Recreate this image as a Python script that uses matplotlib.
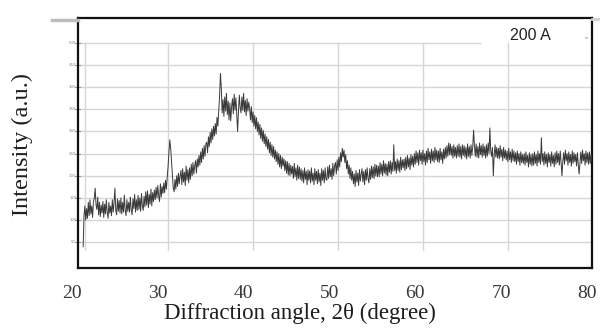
import numpy as np
import matplotlib.pyplot as plt
from matplotlib.lines import Line2D

# scan: 2theta grid (0.1 deg step) and intensity
two_theta = np.round(np.arange(213, 807) / 10, 1)
intensity = [
    40, 110, 132, 100,                                      # 21.3-21.6
    126, 104, 140, 110, 146, 114, 132, 106, 142, 150,
    172, 134, 124, 152, 112, 140, 108, 134, 116, 142,
    106, 136, 114, 146, 118, 104, 140, 116, 132, 110,
    146, 118, 140, 172, 122, 112, 148, 120, 144, 116,
    150, 114, 140, 118, 156, 122, 110, 146, 120, 140,
    118, 152, 124, 112, 148, 126, 158, 118, 146, 122,
    156, 124, 150, 120, 160, 132, 122, 154, 130, 164,
    134, 166, 128, 158, 136, 170, 132, 162, 142, 168,
    146, 174, 150, 178, 154, 142, 182, 152, 176, 160,
    184, 162, 190, 170, 198, 222, 255, 281, 262, 232,       # peak ~31.4
    205, 172, 164, 192, 170, 200, 176, 206, 182, 200,
    212, 180, 216, 186, 208, 178, 222, 190, 214, 184,
    218, 192, 226, 200, 230, 204, 222, 234, 206, 238,
    220, 246, 224, 254, 230, 262, 238, 268, 244, 272,
    276, 252, 288, 266, 298, 274, 306, 282, 312, 290,
    318, 294, 332, 312, 348, 380, 431, 398, 342, 372,       # main peak ~37.3
    334, 378, 346, 386, 338, 368, 326, 364, 324, 356,
    374, 340, 384, 348, 376, 336, 300, 346, 382, 354,
    342, 378, 348, 386, 344, 370, 336, 374, 346, 366,
    352, 326, 356, 320, 344, 312, 336, 306, 331, 300,
    321, 292, 316, 284, 308, 278, 302, 272, 294, 266,
    288, 260, 282, 252, 276, 246, 270, 242, 266, 238,
    258, 232, 254, 226, 250, 220, 246, 216, 242, 222,
    238, 212, 234, 206, 232, 202, 228, 200, 224, 204,
    221, 194, 228, 198, 218, 190, 224, 194, 220, 192,
    216, 188, 212, 184, 218, 192, 210, 180, 214, 190,
    211, 184, 218, 188, 206, 180, 216, 190, 210, 182,
    214, 186, 206, 178, 216, 190, 212, 184, 218, 192,
    190, 220, 194, 224, 198, 216, 192, 228, 200, 222,
    230, 204, 236, 212, 242, 220, 252, 232, 262, 242,       # small peak ~51.5
    258, 230, 248, 216, 234, 204, 224, 194, 218, 190,
    210, 182, 204, 176, 212, 186, 206, 178, 214, 188,
    204, 216, 186, 210, 180, 214, 190, 218, 194, 184,
    216, 192, 222, 196, 220, 194, 226, 200, 224, 198,
    222, 198, 230, 204, 226, 200, 234, 206, 228, 202,
    226, 200, 232, 208, 234, 204, 230, 210, 270, 212,
    232, 206, 238, 212, 234, 208, 242, 214, 236, 218,
    238, 212, 242, 216, 246, 220, 240, 214, 248, 224,
    244, 220, 250, 226, 256, 230, 252, 224, 258, 234,
    252, 226, 258, 232, 250, 224, 256, 230, 262, 236,
    254, 228, 260, 234, 256, 230, 264, 236, 258, 232,
    256, 230, 262, 236, 254, 228, 260, 238, 264, 240,
    268, 244, 274, 248, 272, 246, 266, 240, 270, 244,
    264, 240, 268, 244, 272, 242, 266, 238, 270, 246,
    268, 242, 264, 238, 272, 244, 266, 240, 270, 246,
    264, 303, 268, 244, 272, 242, 266, 240, 274, 248,
    268, 242, 272, 246, 266, 240, 270, 244, 274, 250,
    308, 256, 244, 264, 200, 246, 270, 242, 264, 240,
    262, 238, 268, 242, 260, 234, 264, 240, 258, 236,
    256, 232, 262, 236, 254, 230, 260, 234, 256, 232,
    252, 226, 256, 232, 250, 224, 254, 230, 248, 228,
    250, 224, 254, 230, 246, 220, 252, 226, 248, 222,
    250, 224, 254, 228, 248, 222, 256, 230, 250, 226,
    286, 232, 250, 224, 254, 228, 248, 220, 252, 230,
    248, 222, 254, 228, 246, 220, 252, 226, 256, 230,
    250, 224, 256, 230, 200, 232, 252, 226, 258, 234,
    250, 224, 254, 230, 248, 222, 256, 228, 252, 232,
    248, 222, 252, 226, 204, 230, 254, 228, 258, 234,
    250, 224, 256, 230, 252, 226, 254, 228, 248, 232,
]

x_ticks = [20, 30, 40, 50, 60, 70, 80]
inner_y_ticks = [50, 100, 150, 200, 250, 300, 350, 400, 450, 500]
inner_x_grid = [21.5, 31.2, 41.1, 51.0, 60.9, 70.8]
frame_left = 20.7

fig = plt.figure(figsize=(6.01, 3.29), dpi=100)
ax = fig.add_axes([0.1198, 0.1854, 0.8652, 0.7599])

# grid of the original instrument plot
for v in inner_y_ticks:
    x_end = 67.5 if v == 500 else 80.4
    ax.plot([20.93, x_end], [v, v], color='#d6d6d6', lw=1.0, zorder=1)
    ax.plot([20.4, 20.93], [v, v], color='#9a9a9a', lw=0.8, zorder=1)
    ax.text(20.1, v, str(v), fontsize=2.8, color='#8a8a8a', ha='center', va='center')
for g in inner_x_grid:
    ax.plot([g, g], [33, 500], color='#d6d6d6', lw=1.0, zorder=1)

ax.plot(two_theta, intensity, color='#3a3a3a', lw=0.7, zorder=3)

ax.text(71.0, 516, '200 A', fontsize=11.5, family='Liberation Sans', color='#222222',
        ha='left', va='center')
ax.text(80.0, 512, 'tu', fontsize=3, color='#8a8a8a', ha='center', va='center')

ax.set_xticks(x_ticks)
ax.set_yticks([])
ax.set_xlim(20, 80.6)
ax.set_ylim(-8, 556)
ax.tick_params(axis='x', length=0, pad=12, labelsize=14)
for lab in ax.get_xticklabels():
    lab.set_family('Liberation Serif')
    lab.set_color('#383838')

# the frame starts a little right of the "20" label
ax.spines['left'].set_position(('data', frame_left))
ax.spines['top'].set_bounds(frame_left, 80.6)
ax.spines['bottom'].set_bounds(frame_left, 80.6)
for sp in ax.spines.values():
    sp.set_linewidth(1.6)
    sp.set_color('#111111')

ax.set_xlabel('Diffraction angle, 2θ (degree)', family='Liberation Serif', fontsize=16.5,
              color='#1e1e1e')
ax.xaxis.set_label_coords(0.4385, -0.138)
ax.set_ylabel('Intensity (a.u.)', family='Liberation Serif', fontsize=17.5,
              color='#1e1e1e')
ax.yaxis.set_label_coords(-0.075, 0.492)

# scanning leftovers at the top corners
fig.add_artist(Line2D([52 / 601, 78 / 601], [1 - 20 / 329, 1 - 20 / 329],
                      color='#bdbdbd', lw=2.5))
fig.add_artist(Line2D([592 / 601, 598 / 601], [1 - 19 / 329, 1 - 19 / 329],
                      color='#cfcfcf', lw=2.0))

fig.savefig('out.png', dpi=100)
